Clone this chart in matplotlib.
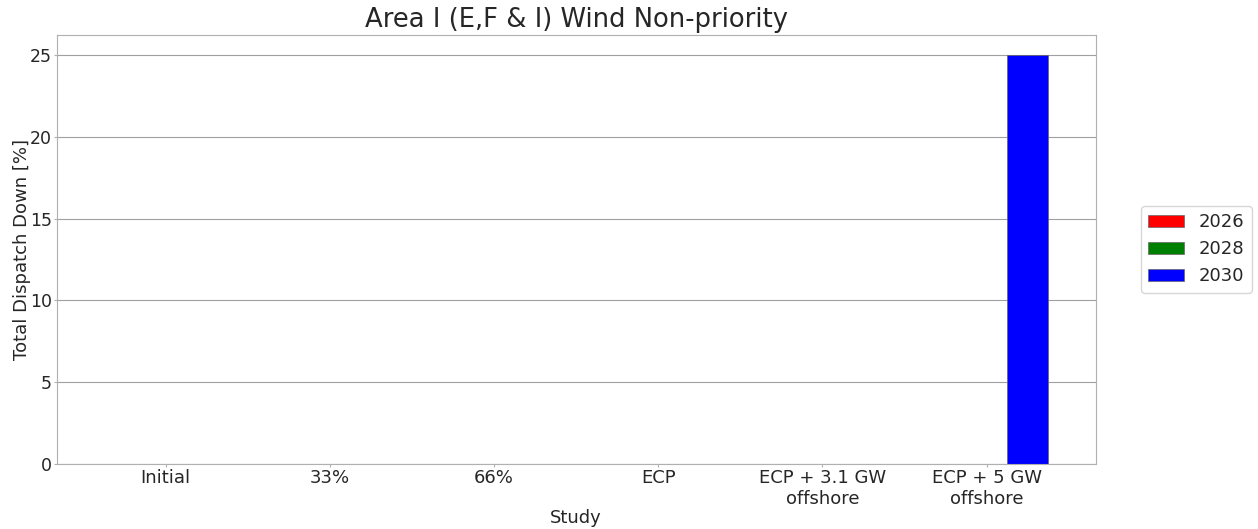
import numpy as np
import matplotlib
matplotlib.use("Agg")
import matplotlib.pyplot as plt

studies = ["Initial", "33%", "66%", "ECP", "ECP + 3.1 GW\noffshore", "ECP + 5 GW\noffshore"]
years = ["2026", "2028", "2030"]
colors = ["red", "green", "blue"]
vals_2026 = [0, 0, 0, 0, 0, 0]
vals_2028 = [0, 0, 0, 0, 0, 0]
vals_2030 = [0, 0, 0, 0, 0, 25]
series = [vals_2026, vals_2028, vals_2030]

plt.rcParams["font.family"] = "DejaVu Sans"
plt.rcParams["text.color"] = "#262626"
plt.rcParams["axes.labelcolor"] = "#262626"
plt.rcParams["xtick.color"] = "#262626"
plt.rcParams["ytick.color"] = "#262626"

fig, ax = plt.subplots(figsize=(12.58, 5.29), dpi=100)
fig.subplots_adjust(left=0.045, right=0.871, top=0.934, bottom=0.123)

x = np.arange(len(studies))
w = 0.25
for i, (yr, c, v) in enumerate(zip(years, colors, series)):
    ax.bar(x + (i - 1) * w, v, w, color=c, edgecolor="#666666", linewidth=0.5, label=yr)

ax.set_xticks(x)
ax.set_xticklabels(studies, fontsize=13)
ax.tick_params(axis="y", labelsize=12.5)
ax.tick_params(axis="both", color="#b0b0b0", length=2, pad=1.5)
ax.set_xlim(-0.665, 5.665)
ax.set_ylim(0, 26.25)
ax.set_yticks([0, 5, 10, 15, 20, 25])
ax.yaxis.grid(True, color="#a0a0a0", linewidth=0.8)
ax.set_axisbelow(True)
for s in ax.spines.values():
    s.set_color("#b0b0b0")

ax.set_xlabel("Study", fontsize=13, labelpad=1)
ax.set_ylabel("Total Dispatch Down [%]", fontsize=13, labelpad=-1)
ax.set_title("Area I (E,F & I) Wind Non-priority", fontsize=18.6)
ax.legend(loc="center left", bbox_to_anchor=(1.035, 0.5), fontsize=13)

fig.savefig("out.png", dpi=100)
